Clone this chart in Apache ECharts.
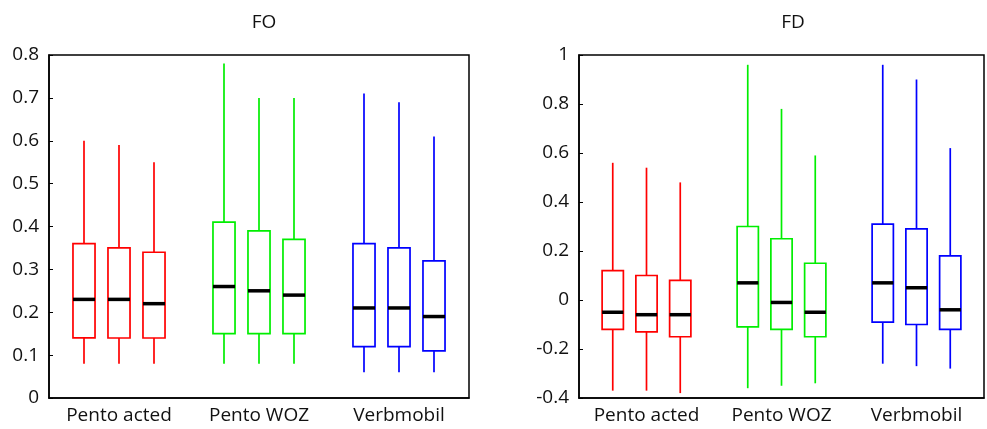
<!DOCTYPE html>
<html>
<head>
<meta charset="utf-8">
<script src="https://cdn.jsdelivr.net/npm/echarts@6/dist/echarts.min.js"></script>
<style>html,body{margin:0;padding:0;background:#fff;}#c{width:987px;height:429px;}</style>
</head>
<body>
<div id="c"></div>
<script>
// ---- data ----
const groups = ['Pento acted', 'Pento WOZ', 'Verbmobil'];
const groupPos = [2, 6, 10];
const boxPos = [1, 2, 3, 5, 6, 7, 9, 10, 11];
const boxGroup = [0, 0, 0, 1, 1, 1, 2, 2, 2];
const groupColors = ['#ff0000', '#00ee00', '#0000ff'];

// FO panel
const foMin = [0.08, 0.08, 0.08, 0.08, 0.08, 0.08, 0.06, 0.06, 0.06];
const foQ1  = [0.14, 0.14, 0.14, 0.15, 0.15, 0.15, 0.12, 0.12, 0.11];
const foMed = [0.23, 0.23, 0.22, 0.26, 0.25, 0.24, 0.21, 0.21, 0.19];
const foQ3  = [0.36, 0.35, 0.34, 0.41, 0.39, 0.37, 0.36, 0.35, 0.32];
const foMax = [0.60, 0.59, 0.55, 0.78, 0.70, 0.70, 0.71, 0.69, 0.61];

// FD panel
const fdMin = [-0.37, -0.37, -0.38, -0.36, -0.35, -0.34, -0.26, -0.27, -0.28];
const fdQ1  = [-0.12, -0.13, -0.15, -0.11, -0.12, -0.15, -0.09, -0.10, -0.12];
const fdMed = [-0.05, -0.06, -0.06, 0.07, -0.01, -0.05, 0.07, 0.05, -0.04];
const fdQ3  = [0.12, 0.10, 0.08, 0.30, 0.25, 0.15, 0.31, 0.29, 0.18];
const fdMax = [0.56, 0.54, 0.48, 0.96, 0.78, 0.59, 0.96, 0.90, 0.62];

function build(mins, q1, med, q3, maxs) {
  return boxPos.map((p, i) => [p, mins[i], q1[i], med[i], q3[i], maxs[i], boxGroup[i]]);
}

const FONT = 'Open Sans';
const FS = 19;

function renderBox(params, api) {
  const x = api.value(0);
  const pMin = api.coord([x, api.value(1)]);
  const pQ1 = api.coord([x, api.value(2)]);
  const pMed = api.coord([x, api.value(3)]);
  const pQ3 = api.coord([x, api.value(4)]);
  const pMax = api.coord([x, api.value(5)]);
  const w = api.size([1, 0])[0] * 0.63;
  const color = groupColors[api.value(6)];
  const ls = { stroke: color, lineWidth: 1.7, fill: null };
  return {
    type: 'group',
    children: [
      { type: 'line', shape: { x1: pMin[0], y1: pMin[1], x2: pQ1[0], y2: pQ1[1] }, style: ls },
      { type: 'line', shape: { x1: pQ3[0], y1: pQ3[1], x2: pMax[0], y2: pMax[1] }, style: ls },
      { type: 'rect', shape: { x: pQ3[0] - w / 2, y: pQ3[1], width: w, height: pQ1[1] - pQ3[1] }, style: { stroke: color, lineWidth: 1.7, fill: 'none' } },
      { type: 'line', shape: { x1: pMed[0] - w / 2, y1: pMed[1], x2: pMed[0] + w / 2, y2: pMed[1] }, style: { stroke: '#000', lineWidth: 3.5 } }
    ]
  };
}

function xAxis(idx) {
  return {
    type: 'value', gridIndex: idx, min: 0, max: 12, interval: 2,
    axisLine: { show: true, onZero: false, lineStyle: { color: '#000', width: 1.5 } },
    axisTick: { show: false },
    splitLine: { show: false },
    axisLabel: {
      color: '#111', fontFamily: FONT, fontSize: FS, margin: 8,
      formatter: v => { const k = groupPos.indexOf(v); return k >= 0 ? groups[k] : ''; }
    }
  };
}
function yAxis(idx, min, max, interval) {
  return {
    type: 'value', gridIndex: idx, min, max, interval,
    axisLine: { show: true, onZero: false, lineStyle: { color: '#000', width: 1.5 } },
    axisTick: { show: true, inside: true, length: 4, lineStyle: { color: '#000', width: 1 } },
    splitLine: { show: false },
    axisLabel: { color: '#111', fontFamily: FONT, fontSize: FS, margin: 10 }
  };
}

const chart = echarts.init(document.getElementById('c'));
chart.setOption({
  animation: false,
  backgroundColor: '#fff',
  title: [
    { text: 'FO', left: 259, top: 8, textAlign: 'center', textStyle: { fontFamily: FONT, fontSize: FS, fontWeight: 'normal', color: '#111' } },
    { text: 'FD', left: 788, top: 8, textAlign: 'center', textStyle: { fontFamily: FONT, fontSize: FS, fontWeight: 'normal', color: '#111' } }
  ],
  grid: [
    { left: 49, width: 420, top: 55, bottom: 31, show: true, borderColor: '#000', borderWidth: 1.5, backgroundColor: 'transparent' },
    { left: 579, width: 420, top: 55, bottom: 31, show: true, borderColor: '#000', borderWidth: 1.5, backgroundColor: 'transparent' }
  ],
  xAxis: [xAxis(0), xAxis(1)],
  yAxis: [yAxis(0, 0, 0.8, 0.1), yAxis(1, -0.4, 1, 0.2)],
  series: [
    { type: 'custom', xAxisIndex: 0, yAxisIndex: 0, renderItem: renderBox, encode: { x: 0, y: [1, 5] }, data: build(foMin, foQ1, foMed, foQ3, foMax) },
    { type: 'custom', xAxisIndex: 1, yAxisIndex: 1, renderItem: renderBox, encode: { x: 0, y: [1, 5] }, data: build(fdMin, fdQ1, fdMed, fdQ3, fdMax) }
  ]
});
</script>
</body>
</html>
